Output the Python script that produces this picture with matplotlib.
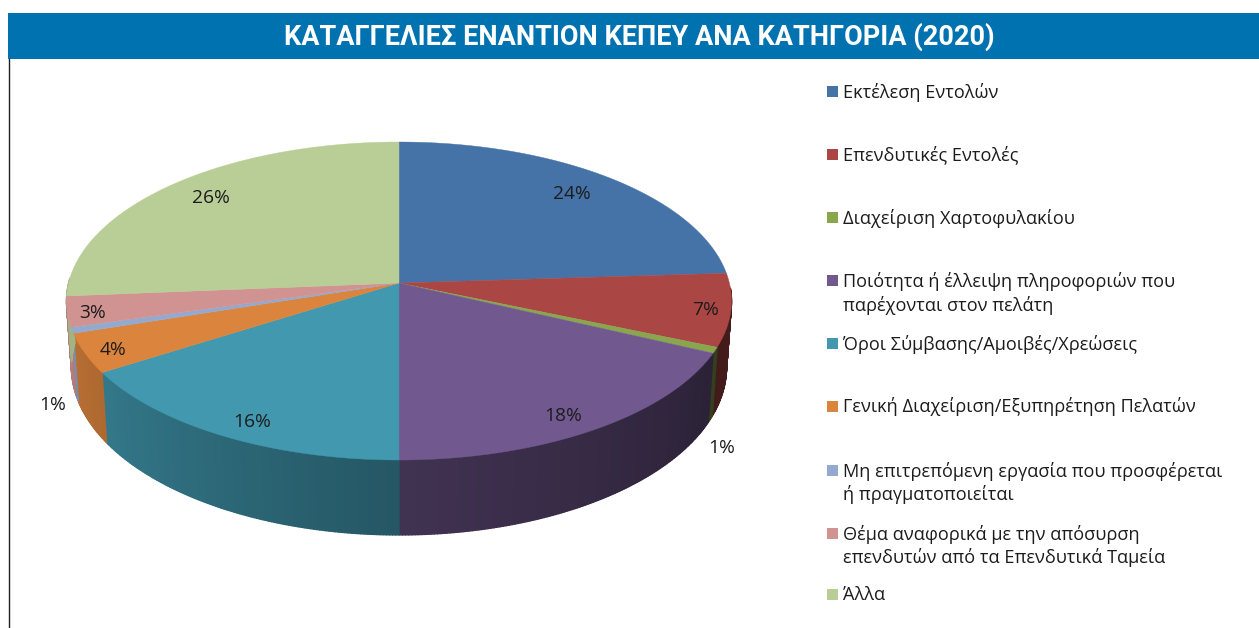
#!/usr/bin/env python3
"""Complaints by category (2020), tilted 3D-look pie drawn with polygons."""
import numpy as np
import matplotlib.pyplot as plt
from matplotlib.collections import PolyCollection
from matplotlib.colors import to_rgb
from matplotlib.patches import Rectangle

TITLE = "ΚΑΤΑΓΓΕΛΙΕΣ ΕΝΑΝΤΙΟΝ ΚΕΠΕΥ ΑΝΑ ΚΑΤΗΓΟΡΙΑ (2020)"
categories = [
    "Εκτέλεση Εντολών",
    "Επενδυτικές Εντολές",
    "Διαχείριση Χαρτοφυλακίου",
    "Ποιότητα ή έλλειψη πληροφοριών που\nπαρέχονται στον πελάτη",
    "Όροι Σύμβασης/Αμοιβές/Χρεώσεις",
    "Γενική Διαχείριση/Εξυπηρέτηση Πελατών",
    "Μη επιτρεπόμενη εργασία που προσφέρεται\nή πραγματοποιείται",
    "Θέμα αναφορικά με την απόσυρση\nεπενδυτών από τα Επενδυτικά Ταμεία",
    "Άλλα",
]
# the labels show them rounded
values = [24, 7.4, 0.6, 18, 16, 4, 0.6, 3.1, 26.3]
colors = ["#4572A7", "#AA4643", "#89A54E", "#71588F", "#4198AF",
          "#DB843D", "#93A9CF", "#D19392", "#B9CD96"]

# layout, in reference pixels
label_xy = [(572, 194), (706, 310), (722, 448), (563, 416), (252, 422),
            (113, 350), (53, 405), (93, 313), (211, 198)]
legend_y = [92, 155, 218, 293.5, 344, 407, 483, 546, 595]
CX, CY, RX, RY = 399, 301, 332.5, 159
TILT = 0.113  # how far the pie centre sits behind the ellipse centre

# side brightness against angle, clockwise from 12 o'clock
shade_deg = [0, 90, 115, 180, 240, 270, 360]
shade_val = [0.4, 0.42, 0.38, 0.57, 0.8, 0.88, 0.88]


def project(theta, r=1.0):
    """Disc point (clockwise angle, radius) to pixels, with perspective."""
    x, y = r * np.sin(theta), r * np.cos(theta)
    w = 1 + TILT * y
    return CX + RX * x * np.sqrt(1 - TILT ** 2) / w, CY - RY * (y + TILT) / w


def lower(px, py):
    """Rim point to the matching point on the base of the pie."""
    return CX + (px - CX) * 0.985, py + 66 + 0.056 * (py - CY)


plt.rcParams["font.family"] = ["Open Sans", "DejaVu Sans"]
fig = plt.figure(figsize=(12.59, 6.28), dpi=100)
ax = fig.add_axes([0, 0, 1, 1])
ax.set_xlim(0, 1259)
ax.set_ylim(628, 0)
ax.axis("off")

ax.add_patch(Rectangle((8, 13), 1251, 46, fc="#0072B0", ec="none"))
ax.plot([9, 9], [59, 628], color="#222222", lw=1.0)
ax.text(639, 37, TITLE, color="white", ha="center", va="center",
        fontsize=19.5, fontweight="bold", family="Roboto")

edges = np.radians(np.cumsum([0] + values) * 3.6)

# side wall first, only the part facing the viewer
polys, fills = [], []
for i, col in enumerate(colors):
    steps = max(int(2 * np.degrees(edges[i + 1] - edges[i])), 2)
    th = np.linspace(edges[i], edges[i + 1], steps + 1)
    px, py = project(th)
    bx, by = lower(px, py)
    for j in range(steps):
        mid = np.degrees(th[j:j + 2].mean())
        if not 92 < mid < 272:
            continue
        polys.append([(px[j], py[j]), (px[j + 1], py[j + 1]),
                      (bx[j + 1], by[j + 1]), (bx[j], by[j])])
        f = np.interp(mid, shade_deg, shade_val)
        fills.append(tuple(c * f for c in to_rgb(col)))
ax.add_collection(PolyCollection(polys, facecolors=fills, edgecolors=fills, linewidths=1.0))

for i, col in enumerate(colors):
    th = np.linspace(edges[i], edges[i + 1], 120)
    px, py = project(th)
    ax0, ay0 = project(0.0, 0.0)
    ax.fill(np.r_[ax0, px], np.r_[ay0, py], fc=col, ec=col, lw=0.3)

for v, (x, y) in zip(values, label_xy):
    ax.text(x, y, f"{v:.0f}%", ha="center", va="center", fontsize=13.8, color="#1c1c1c")

for name, col, y in zip(categories, colors, legend_y):
    first_y = y - 12.5 if "\n" in name else y
    ax.add_patch(Rectangle((827, first_y - 6), 11, 11, fc=col, ec="none"))
    ax.text(843, y, name, ha="left", va="center", fontsize=13.1,
            color="#1c1c1c", linespacing=1.3)

fig.savefig("out.png", dpi=100)
